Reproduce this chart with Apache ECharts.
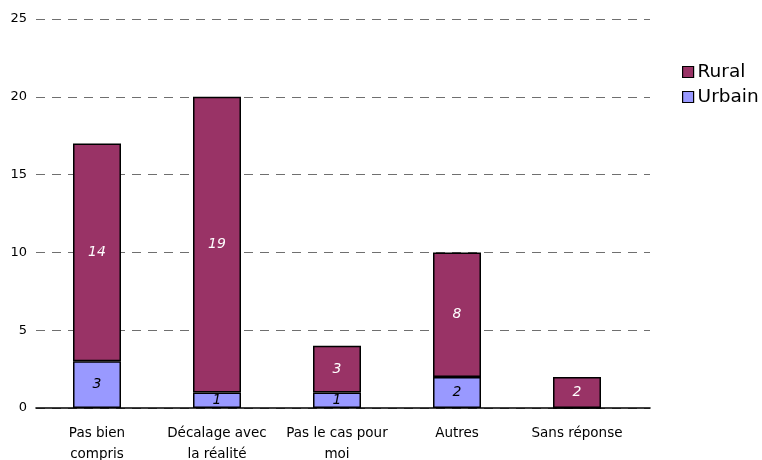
<!DOCTYPE html>
<html>
<head>
<meta charset="utf-8">
<script src="https://cdn.jsdelivr.net/npm/echarts@6/dist/echarts.min.js"></script>
<style>
  html, body { margin: 0; padding: 0; background: #fff; }
  #chart { width: 762px; height: 460px; }
</style>
</head>
<body>
<div id="chart"></div>
<script>
// Reasons given, split by area
const categories = ['Pas bien\ncompris', 'Décalage avec\nla réalité', 'Pas le cas pour\nmoi', 'Autres', 'Sans réponse'];
const urbain = [3, 1, 1, 2, 0];
const rural = [14, 19, 3, 8, 2];
const yTicks = [0, 5, 10, 15, 20, 25];

const FONT = 'DejaVu Sans';
const chart = echarts.init(document.getElementById('chart'), null, { renderer: 'canvas' });

const valueLabel = (color) => ({
  show: true,
  position: 'inside',
  color: color,
  fontFamily: FONT,
  fontStyle: 'italic',
  fontSize: 14,
  formatter: (p) => (p.value ? String(p.value) : '')
});

chart.setOption({
  animation: false,
  backgroundColor: '#fff',
  textStyle: { fontFamily: FONT },
  legend: {
    orient: 'vertical',
    left: 677,
    top: 57,
    data: ['Rural', 'Urbain'],
    icon: 'rect',
    itemWidth: 11,
    itemHeight: 11,
    itemGap: 5,
    itemStyle: { borderColor: '#000', borderWidth: 1.2 },
    textStyle: { fontFamily: FONT, fontSize: 18.5, color: '#000', lineHeight: 20, padding: [0, 0, 0, -1] }
  },
  grid: [
    // frame for the value axis, gridlines and baseline
    { left: 36, right: 112, top: 19, bottom: 52, outerBoundsMode: 'none', containLabel: false },
    // plotting area for the bars
    { left: 37, width: 600, top: 19, bottom: 52, outerBoundsMode: 'none', containLabel: false }
  ],
  xAxis: [
    {
      gridIndex: 0,
      type: 'category',
      data: categories,
      axisLine: { show: true, lineStyle: { color: '#000', width: 1.6 } },
      axisTick: { show: false },
      axisLabel: { show: false },
      splitLine: { show: false }
    },
    {
      gridIndex: 1,
      type: 'category',
      data: categories,
      axisLine: { show: false },
      axisTick: { show: false },
      axisLabel: {
        color: '#000',
        fontFamily: FONT,
        fontSize: 13.5,
        lineHeight: 21,
        margin: 15,
        interval: 0
      }
    }
  ],
  yAxis: [
    {
      gridIndex: 0,
      type: 'value',
      min: yTicks[0],
      max: yTicks[yTicks.length - 1],
      interval: 5,
      axisLine: { show: false },
      axisTick: { show: false },
      axisLabel: { color: '#000', fontFamily: FONT, fontSize: 13, margin: 9 },
      splitLine: { show: true, lineStyle: { color: '#6f6f6f', width: 1, type: [9, 7] } }
    },
    {
      gridIndex: 1,
      type: 'value',
      min: yTicks[0],
      max: yTicks[yTicks.length - 1],
      interval: 5,
      show: false,
      splitLine: { show: false }
    }
  ],
  series: [
    {
      name: 'Urbain',
      type: 'bar',
      stack: 'total',
      xAxisIndex: 1,
      yAxisIndex: 1,
      barWidth: 48,
      data: urbain,
      itemStyle: { color: '#9999FF', borderColor: '#000', borderWidth: 1.5 },
      label: valueLabel('#000')
    },
    {
      name: 'Rural',
      type: 'bar',
      stack: 'total',
      xAxisIndex: 1,
      yAxisIndex: 1,
      barWidth: 48,
      data: rural,
      itemStyle: { color: '#993366', borderColor: '#000', borderWidth: 1.5 },
      label: valueLabel('#fff')
    }
  ]
});
</script>
</body>
</html>
